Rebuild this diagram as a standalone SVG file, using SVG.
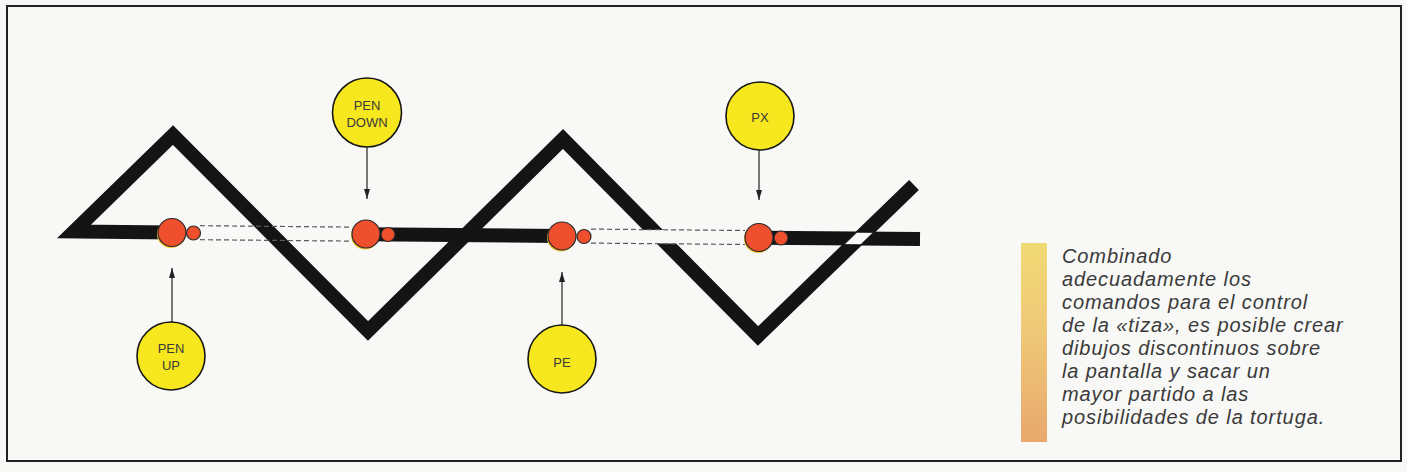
<svg xmlns="http://www.w3.org/2000/svg" width="1407" height="472" viewBox="0 0 1407 472">
<defs>
<style>
.zig{fill:none;stroke:#141414;stroke-width:14;stroke-linejoin:miter;stroke-linecap:butt}
.band{stroke:#141414;stroke-width:14;stroke-linecap:butt}
.dash{stroke:#5a5a5a;stroke-width:1.2;stroke-dasharray:5 3;fill:none}
.dot{fill:#ee4f2c;stroke:#2a2a2a;stroke-width:1.2}
.shadow{fill:#f2c232}
.lbl circle{fill:#f6e71e;stroke:#151515;stroke-width:1.6}
.lbl text{font-family:'Liberation Sans',Arial,sans-serif;font-size:13px;fill:#3a3a3a;text-anchor:middle}
.arrow{stroke:#222;stroke-width:1.2;fill:none;marker-end:url(#ah)}
.cap{font-family:'Liberation Sans',Arial,sans-serif;font-style:italic;font-size:20px;fill:#3a3a3a;letter-spacing:0.9px}
</style>
<marker id="ah" markerUnits="userSpaceOnUse" markerWidth="10" markerHeight="6" refX="10" refY="3" orient="auto">
<path d="M0,0 L10,3 L0,6 Z" fill="#222"/>
</marker>
<linearGradient id="bar" x1="0" y1="0" x2="0" y2="1">
<stop offset="0" stop-color="#f1da74"/>
<stop offset="0.45" stop-color="#efc878"/>
<stop offset="1" stop-color="#e8a86c"/>
</linearGradient>
<clipPath id="xorclip">
<polygon points="830,232.4 890,232.9 890,244.5 830,244.0"/>
</clipPath>
</defs>
<rect x="0" y="0" width="1407" height="472" fill="#f8f8f6"/>
<rect x="7" y="6" width="1394" height="455" fill="none" stroke="#222" stroke-width="2"/>

<g id="path">
<path class="zig" d="M172,232.5 L74,231.5 L173,135 L368,331 L563,139 L758,336 L914,185"/>
<line class="band" x1="366" y1="234.2" x2="562" y2="235.9"/>
<line class="band" x1="759" y1="237.6" x2="920" y2="239"/>
<line x1="628" y1="236.4" x2="692" y2="237" stroke="#f8f8f6" stroke-width="13.5"/>
<line x1="758" y1="336" x2="914" y2="185" stroke="#f8f8f6" stroke-width="11" clip-path="url(#xorclip)"/>
<line class="dash" x1="200" y1="225.7" x2="352" y2="227.1"/>
<line class="dash" x1="200" y1="239.7" x2="352" y2="241.1"/>
<line class="dash" x1="591" y1="229.1" x2="745" y2="230.5"/>
<line class="dash" x1="591" y1="243.1" x2="745" y2="244.5"/>
</g>

<g id="turtle-penup">
<circle class="shadow" cx="171" cy="234" r="14"/>
<circle class="dot" cx="172" cy="232.5" r="14"/>
<circle class="dot" cx="193.5" cy="233" r="7"/>
</g>
<g id="turtle-pendown">
<circle class="shadow" cx="365" cy="235.5" r="14"/>
<circle class="dot" cx="366" cy="234" r="14"/>
<circle class="dot" cx="388" cy="234.5" r="7"/>
</g>
<g id="turtle-pe">
<circle class="shadow" cx="561" cy="237.5" r="14"/>
<circle class="dot" cx="562" cy="236" r="14"/>
<circle class="dot" cx="584" cy="236.5" r="7"/>
</g>
<g id="turtle-px">
<circle class="shadow" cx="758" cy="239" r="14"/>
<circle class="dot" cx="759" cy="237.5" r="14"/>
<circle class="dot" cx="781" cy="238" r="7"/>
</g>

<g id="connectors">
<line class="arrow" x1="172" y1="322" x2="172" y2="268"/>
<line class="arrow" x1="367" y1="147" x2="367" y2="199"/>
<line class="arrow" x1="562" y1="325" x2="562" y2="272"/>
<line class="arrow" x1="759" y1="150" x2="759" y2="200"/>
</g>

<g id="label-penup" class="lbl">
<circle cx="171" cy="356" r="34"/>
<text x="171" y="352.5">PEN</text>
<text x="171" y="369.5">UP</text>
</g>
<g id="label-pendown" class="lbl">
<circle cx="367" cy="112.5" r="34.5"/>
<text x="367" y="109.5">PEN</text>
<text x="367" y="126.5">DOWN</text>
</g>
<g id="label-pe" class="lbl">
<circle cx="562" cy="359" r="34"/>
<text x="562" y="366.5">PE</text>
</g>
<g id="label-px" class="lbl">
<circle cx="760" cy="116" r="34"/>
<text x="760" y="121.5">PX</text>
</g>

<g id="caption">
<rect x="1021" y="243" width="26" height="199" fill="url(#bar)"/>
<text class="cap" x="1062" y="263">Combinado</text>
<text class="cap" x="1062" y="286">adecuadamente los</text>
<text class="cap" x="1062" y="309">comandos para el control</text>
<text class="cap" x="1062" y="332">de la «tiza», es posible crear</text>
<text class="cap" x="1062" y="355">dibujos discontinuos sobre</text>
<text class="cap" x="1062" y="378">la pantalla y sacar un</text>
<text class="cap" x="1062" y="401">mayor partido a las</text>
<text class="cap" x="1062" y="424">posibilidades de la tortuga.</text>
</g>
</svg>
